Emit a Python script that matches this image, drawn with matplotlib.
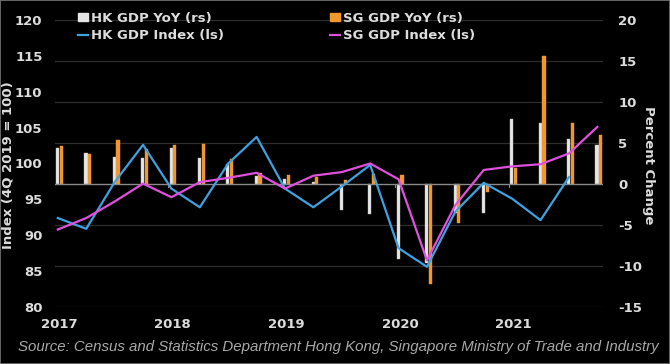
import matplotlib
matplotlib.use("Agg")
import matplotlib.pyplot as plt
import matplotlib.patches as mpatches
from matplotlib.lines import Line2D
import numpy as np

quarters = ["1Q17", "2Q17", "3Q17", "4Q17", "1Q18", "2Q18", "3Q18", "4Q18",
            "1Q19", "2Q19", "3Q19", "4Q19", "1Q20", "2Q20", "3Q20", "4Q20",
            "1Q21", "2Q21", "3Q21", "4Q21"]
hk_yoy = [4.4, 3.8, 3.3, 3.2, 4.4, 3.2, 2.4, 1.0, 0.6, 0.3, -3.2, -3.6,
          -9.1, -9.6, -3.5, -3.5, 7.9, 7.5, 5.5, 4.7]
sg_yoy = [4.6, 3.7, 5.4, 4.3, 4.8, 4.9, 3.0, 1.4, 1.1, 0.8, 0.5, 1.2,
          1.1, -12.2, -4.7, -1.0, 1.9, 15.6, 7.4, 6.0]
hk_index = [92.4, 90.9, 97.4, 102.6, 96.5, 93.9, 100.0, 103.7, 96.5, 93.9,
            96.8, 99.8, 88.2, 85.6, 93.3, 97.3, 95.1, 92.1, 98.1]
sg_index = [90.8, 92.4, 94.7, 97.2, 95.3, 97.4, 98.0, 98.7, 96.5, 98.3,
            98.8, 100.0, 97.8, 86.5, 94.2, 99.1, 99.6, 99.9, 101.4, 105.1]
year_labels = ["2017", "2018", "2019", "2020", "2021"]
left_ticks = [80, 85, 90, 95, 100, 105, 110, 115, 120]
right_ticks = [-15, -10, -5, 0, 5, 10, 15, 20]

BG = "black"
TXT = "#dcdcdc"
BLUE = "#3ea2e2"
MAGENTA = "#e050de"
ORANGE = "#f0982c"
WHITE = "#e6e6e6"

plt.rcParams['font.family'] = ['DejaVu Sans']

fig = plt.figure(figsize=(6.7, 3.64), dpi=100, facecolor=BG)
ax = fig.add_axes([55/670, 1-307/364, (603-55)/670, (307-20)/364])
ax.set_facecolor(BG)
ax2 = ax.twinx()

x = np.arange(len(quarters))
bw = 0.11
ax.bar(x - 0.01, hk_yoy, width=bw, color=WHITE, edgecolor="#bbbbbb", linewidth=0.3, zorder=2)
ax.bar(x + 0.12, sg_yoy, width=bw, color=ORANGE, edgecolor=ORANGE, linewidth=0.3, zorder=2)
ax.set_ylim(-15, 20)
ax.set_xlim(-0.1, 19.2)
for t in right_ticks:
    if t == 0:
        continue
    ax.axhline(t, color="#2e2e2e", linewidth=0.9, zorder=1)
ax.axhline(0, color="#8a8a8a", linewidth=1.0, zorder=3)
for i in range(0, 20, 4):
    ax.plot([i - 0.12, i - 0.12], [0, -0.35], color="#8a8a8a", linewidth=0.8, zorder=3)

ax.yaxis.tick_right()
ax.yaxis.set_label_position('right')
ax.set_yticks(right_ticks)
ax.set_yticklabels([str(t) for t in right_ticks])
ax.tick_params(axis='y', which='both', left=False, labelleft=False, right=False,
               labelright=True, length=0, pad=11, colors=TXT, labelsize=9.5)
for lab in ax.get_yticklabels():
    lab.set_fontweight('bold')
ax.set_xticks(x[::4] + 0.05)
ax.set_xticklabels(year_labels)
ax.tick_params(axis='x', length=0, pad=8, colors=TXT, labelsize=9.5)
for lab in ax.get_xticklabels():
    lab.set_fontweight('bold')
for s in ax.spines.values():
    s.set_visible(False)

ax2.set_ylim(80, 120)
ax2.yaxis.tick_left()
ax2.set_yticks(left_ticks)
ax2.set_yticklabels([str(t) for t in left_ticks])
ax2.tick_params(axis='y', which='both', left=False, labelleft=True, right=False,
                labelright=False, length=0, pad=9, colors=TXT, labelsize=9.5)
for lab in ax2.get_yticklabels():
    lab.set_fontweight('bold')
for s in ax2.spines.values():
    s.set_visible(False)
ax2.plot(np.arange(len(hk_index)), hk_index, color=BLUE, linewidth=1.6, zorder=4)
ax2.plot(np.arange(len(sg_index)), sg_index, color=MAGENTA, linewidth=1.6, zorder=4)

fig.text(8/670, 1-165/364, "Index (4Q 2019 = 100)", rotation=90, ha='center', va='center',
         color=TXT, fontsize=9.5, fontweight='bold')
fig.text(648/670, 1-165/364, "Percent Change", rotation=270, ha='center', va='center',
         color=TXT, fontsize=9.5, fontweight='bold')

h1 = [mpatches.Patch(color=WHITE), Line2D([], [], color=BLUE, linewidth=1.6)]
h2 = [mpatches.Patch(color=ORANGE), Line2D([], [], color=MAGENTA, linewidth=1.6)]
kw = dict(loc='upper left', frameon=False, handlelength=0.75, handleheight=0.55,
          handletextpad=0.2, labelspacing=0.3, borderpad=0, borderaxespad=0,
          prop={'weight': 'bold', 'size': 9.5}, labelcolor=TXT)
leg1 = fig.legend(h1, ["HK GDP YoY (rs)", "HK GDP Index (ls)"],
                  bbox_to_anchor=(78/670, 1-12/364), **kw)
leg2 = fig.legend(h2, ["SG GDP YoY (rs)", "SG GDP Index (ls)"],
                  bbox_to_anchor=(330/670, 1-12/364), **kw)

fig.text(18/670, 1-347/364,
         "Source: Census and Statistics Department Hong Kong, Singapore Ministry of Trade and Industry",
         ha='left', va='center', color="#a8a8a8", fontsize=10.85, style='italic',
         family=['Liberation Sans', 'DejaVu Sans'])

fig.patches.append(mpatches.Rectangle((0, 0), 1, 1, transform=fig.transFigure,
                                      fill=False, edgecolor="#777777", linewidth=1.2))

fig.savefig("out.png", dpi=100, facecolor=BG)
